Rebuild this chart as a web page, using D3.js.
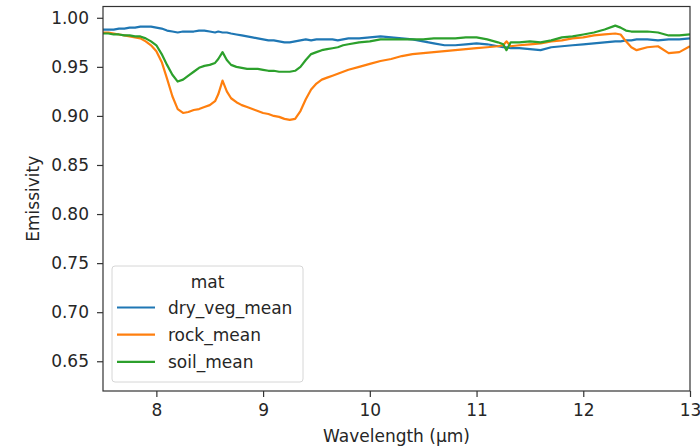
<!DOCTYPE html>
<html>
<head>
<meta charset="utf-8">
<script src="https://cdn.jsdelivr.net/npm/d3@7"></script>
<style>
  body { margin: 0; background: #fff; }
  svg { font-family: "DejaVu Sans", sans-serif; }
</style>
</head>
<body>
<div id="chart"></div>
<script>
// wavelength grid (µm)
const wavelength = [
  7.50, 7.55, 7.60, 7.65, 7.70, 7.75, 7.80, 7.85, 7.90, 7.95,
  8.00, 8.05, 8.10, 8.15, 8.20, 8.25, 8.30, 8.35, 8.40, 8.45,
  8.50, 8.55, 8.58, 8.62, 8.66, 8.70, 8.75, 8.80, 8.85, 8.90,
  8.95, 9.00, 9.05, 9.10, 9.15, 9.20, 9.25, 9.30, 9.35, 9.40,
  9.45, 9.50, 9.55, 9.60, 9.65, 9.70, 9.75, 9.80,
  9.9, 10.0, 10.1, 10.2, 10.3, 10.4, 10.5, 10.6, 10.7, 10.8, 10.9, 11.0,
  11.1, 11.2, 11.25, 11.28, 11.32, 11.4, 11.5, 11.6, 11.7, 11.8, 11.9, 12.0,
  12.1, 12.2, 12.3, 12.35, 12.4, 12.45, 12.5, 12.6, 12.7, 12.8, 12.9, 13.0
];

const dryVegMean = [
  0.988, 0.988, 0.988, 0.989, 0.989, 0.990, 0.990, 0.991, 0.991, 0.991,
  0.990, 0.989, 0.987, 0.986, 0.985, 0.986, 0.986, 0.986, 0.987, 0.987,
  0.986, 0.985, 0.986, 0.985, 0.985, 0.984, 0.983, 0.982, 0.981, 0.980,
  0.979, 0.978, 0.977, 0.977, 0.976, 0.975, 0.975, 0.976, 0.977, 0.978,
  0.977, 0.978, 0.978, 0.978, 0.978, 0.977, 0.978, 0.979,
  0.979, 0.980, 0.981, 0.980, 0.979, 0.978, 0.976, 0.974, 0.972, 0.972, 0.973, 0.974,
  0.973, 0.971, 0.970, 0.970, 0.969, 0.969, 0.968, 0.967, 0.970, 0.971, 0.972, 0.973,
  0.974, 0.975, 0.976, 0.976, 0.977, 0.977, 0.978, 0.978, 0.977, 0.978, 0.978, 0.979
];

const rockMean = [
  0.985, 0.985, 0.984, 0.983, 0.982, 0.981, 0.980, 0.979, 0.976, 0.972,
  0.966, 0.955, 0.938, 0.920, 0.907, 0.903, 0.904, 0.906, 0.907, 0.909,
  0.911, 0.915, 0.922, 0.936, 0.925, 0.918, 0.914, 0.911, 0.909, 0.907,
  0.905, 0.903, 0.902, 0.900, 0.899, 0.897, 0.896, 0.897, 0.905, 0.917,
  0.927, 0.933, 0.937, 0.939, 0.941, 0.943, 0.945, 0.947,
  0.950, 0.953, 0.956, 0.958, 0.961, 0.963, 0.964, 0.965, 0.966, 0.967, 0.968, 0.969,
  0.970, 0.971, 0.972, 0.976, 0.971, 0.972, 0.973, 0.974, 0.976, 0.977, 0.979, 0.980,
  0.982, 0.983, 0.984, 0.983, 0.976, 0.970, 0.967, 0.970, 0.971, 0.964, 0.965, 0.971
];

const soilMean = [
  0.984, 0.984, 0.983, 0.983, 0.982, 0.982, 0.981, 0.981, 0.979, 0.976,
  0.972, 0.963, 0.952, 0.942, 0.935, 0.937, 0.941, 0.945, 0.949, 0.951,
  0.952, 0.954, 0.958, 0.965, 0.957, 0.952, 0.950, 0.949, 0.948, 0.948,
  0.948, 0.947, 0.946, 0.946, 0.945, 0.945, 0.945, 0.946, 0.950, 0.957,
  0.963, 0.965, 0.967, 0.968, 0.969, 0.970, 0.972, 0.973,
  0.975, 0.976, 0.978, 0.978, 0.978, 0.978, 0.978, 0.979, 0.979, 0.979, 0.980, 0.980,
  0.978, 0.975, 0.973, 0.967, 0.975, 0.975, 0.976, 0.975, 0.977, 0.980, 0.981, 0.983,
  0.985, 0.988, 0.992, 0.990, 0.987, 0.986, 0.986, 0.986, 0.985, 0.982, 0.982, 0.983
];

const seriesNames = ['dry_veg_mean', 'rock_mean', 'soil_mean'];
const seriesValues = [dryVegMean, rockMean, soilMean];
const colors = ['#1f77b4', '#ff7f0e', '#2ca02c'];

const xTicks = [8, 9, 10, 11, 12, 13];
const yTicks = [0.65, 0.70, 0.75, 0.80, 0.85, 0.90, 0.95, 1.00];

const width = 700, height = 446;
const margin = { top: 6.5, right: 10, bottom: 55, left: 103 };
const innerW = 690 - margin.left;
const innerH = 391 - margin.top;
const fontSize = '17px';

const svg = d3.select('#chart')
  .append('svg')
  .attr('width', width)
  .attr('height', height);

const g = svg.append('g')
  .attr('transform', `translate(${margin.left},${margin.top})`);

const x = d3.scaleLinear().domain([7.5, 13]).range([0, innerW]);
const y = d3.scaleLinear().domain([0.6197, 1.0115]).range([innerH, 0]);

// clip lines to plot area
g.append('clipPath').attr('id', 'clip')
  .append('rect').attr('width', innerW).attr('height', innerH);

const line = d3.line()
  .x((d, i) => x(wavelength[i]))
  .y(d => y(d));

seriesValues.forEach((vals, i) => {
  g.append('path')
    .datum(vals)
    .attr('clip-path', 'url(#clip)')
    .attr('fill', 'none')
    .attr('stroke', colors[i])
    .attr('stroke-width', 2.2)
    .attr('stroke-linejoin', 'round')
    .attr('d', line);
});

// axes
const xAxis = g.append('g')
  .attr('transform', `translate(0,${innerH})`)
  .call(d3.axisBottom(x).tickValues(xTicks).tickFormat(d3.format('d')).tickSize(6).tickPadding(7));

const yAxis = g.append('g')
  .call(d3.axisLeft(y).tickValues(yTicks).tickFormat(d3.format('.2f')).tickSize(6).tickPadding(8));

[xAxis, yAxis].forEach(ax => {
  ax.select('.domain').remove();
  ax.selectAll('line').attr('stroke', '#333').attr('stroke-width', 1.2);
  ax.selectAll('text')
    .attr('fill', '#262626')
    .style('font-size', fontSize)
    .style('font-family', '"DejaVu Sans", sans-serif');
});

// frame
g.append('rect')
  .attr('width', innerW)
  .attr('height', innerH)
  .attr('fill', 'none')
  .attr('stroke', '#333')
  .attr('stroke-width', 1.2);

// axis labels
svg.append('text')
  .attr('x', margin.left + innerW / 2)
  .attr('y', 442)
  .attr('text-anchor', 'middle')
  .attr('fill', '#262626')
  .style('font-size', fontSize)
  .text('Wavelength (µm)');

svg.append('text')
  .attr('transform', `translate(39,${margin.top + innerH / 2}) rotate(-90)`)
  .attr('text-anchor', 'middle')
  .attr('fill', '#262626')
  .style('font-size', fontSize)
  .text('Emissivity');

// legend
const legend = g.append('g')
  .attr('transform', `translate(${112 - margin.left},${266 - margin.top})`);

legend.append('rect')
  .attr('width', 191)
  .attr('height', 116)
  .attr('rx', 3)
  .attr('fill', 'rgba(255,255,255,0.8)')
  .attr('stroke', '#d6d6d6');

legend.append('text')
  .attr('x', 95.5)
  .attr('y', 22)
  .attr('text-anchor', 'middle')
  .attr('fill', '#262626')
  .style('font-size', fontSize)
  .text('mat');

seriesNames.forEach((name, i) => {
  const yy = 41.5 + i * 27.2;
  legend.append('line')
    .attr('x1', 5).attr('x2', 43)
    .attr('y1', yy).attr('y2', yy)
    .attr('stroke', colors[i])
    .attr('stroke-width', 2.2);
  legend.append('text')
    .attr('x', 56)
    .attr('y', yy + 6)
    .attr('fill', '#262626')
    .style('font-size', fontSize)
    .text(name);
});
</script>
</body>
</html>
